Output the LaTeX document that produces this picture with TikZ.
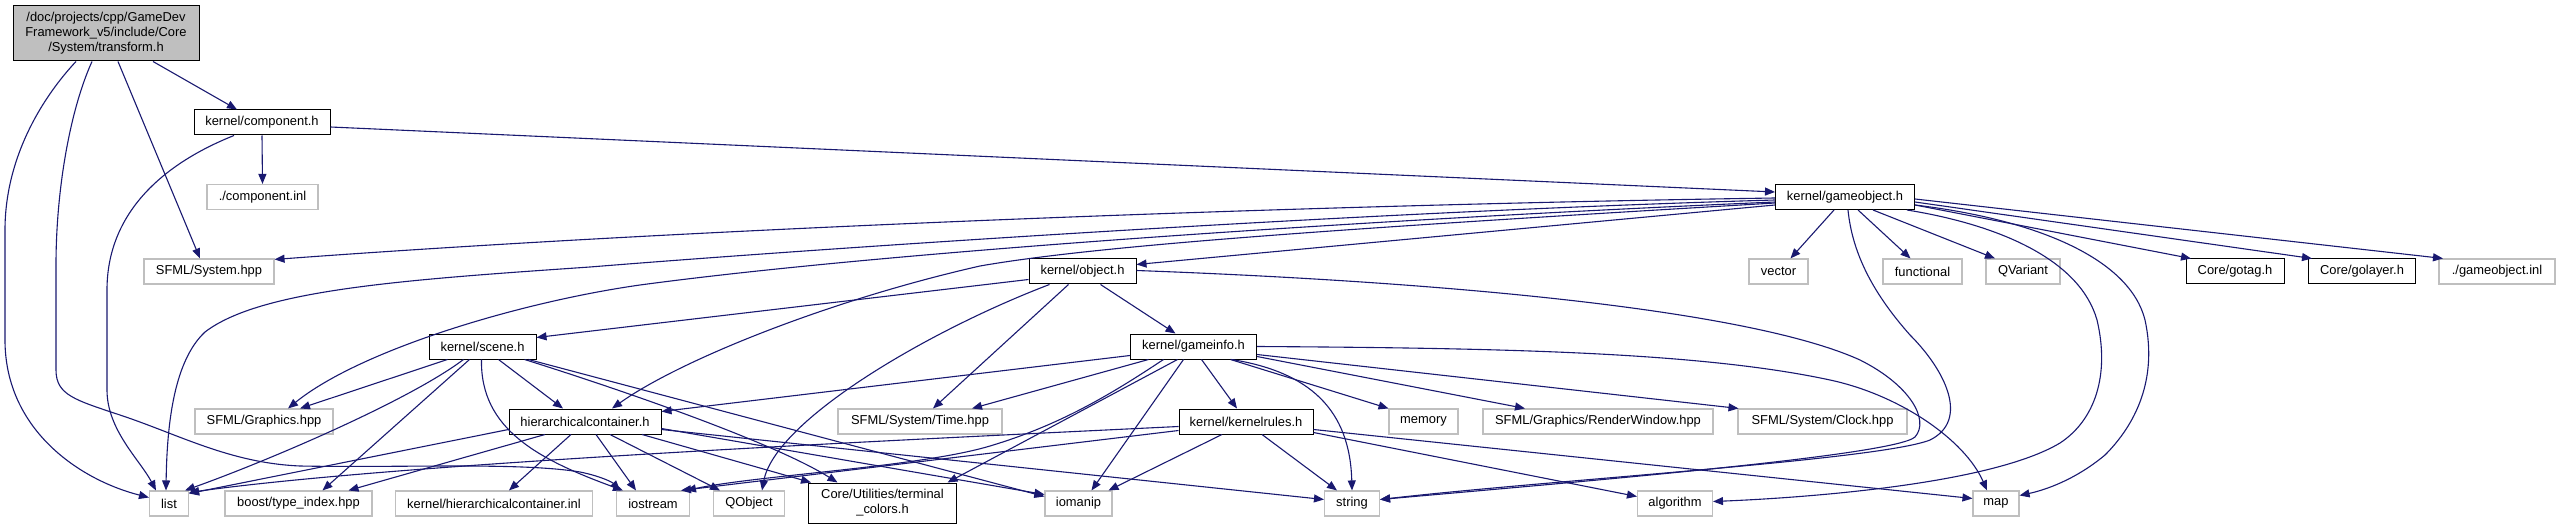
\documentclass[tikz,border=0pt]{standalone}
\usepackage{fontspec}
\setmainfont{Liberation Sans}
\usetikzlibrary{arrows.meta}
\definecolor{edgeblue}{HTML}{191970}
\definecolor{greyb}{HTML}{BFBFBF}
\begin{document}
\begin{tikzpicture}[x=1pt,y=-1pt,
  nbox/.style={rectangle, draw=black, line width=1pt, fill=white, inner sep=0pt, align=center, minimum height=25pt, font=\fontsize{12.9}{15}\selectfont},
  gbox/.style={nbox, draw=greyb, line width=1.1pt},
  dep/.style={draw=edgeblue, line width=1.1pt, -{Triangle[length=10pt,width=8pt]}},
]
\useasboundingbox (0,0) rectangle (2559,529);

% ---------- nodes ----------
\node[nbox, fill=greyb, minimum width=186pt, minimum height=55pt] (trans) at (106,33.5) {/doc/projects/cpp/GameDev\\Framework\_v5/include/Core\\/System/transform.h};
\node[nbox, minimum width=136pt] (comp) at (262,122.5) {kernel/component.h};
\node[gbox, minimum width=111pt] (compinl) at (262.5,197) {./component.inl};
\node[gbox, minimum width=130pt] (sfsys) at (209,271.5) {SFML/System.hpp};
\node[nbox, minimum width=139pt] (gobj) at (1845,197) {kernel/gameobject.h};
\node[nbox, minimum width=107pt] (obj) at (1082.5,271.5) {kernel/object.h};
\node[gbox, minimum width=59pt] (nvector) at (1778.5,271.5) {vector};
\node[gbox, minimum width=79pt] (nfunc) at (1922.5,271.5) {functional};
\node[gbox, minimum width=74pt] (nqvar) at (2023,271.5) {QVariant};
\node[nbox, minimum width=98pt] (gotag) at (2235,271.5) {Core/gotag.h};
\node[nbox, minimum width=107pt] (golayer) at (2362,271.5) {Core/golayer.h};
\node[gbox, minimum width=116pt] (goinl) at (2497,271.5) {./gameobject.inl};
\node[nbox, minimum width=107pt] (scene) at (482.5,346.5) {kernel/scene.h};
\node[nbox, minimum width=126pt] (ginfo) at (1193.5,346.5) {kernel/gameinfo.h};
\node[gbox, minimum width=138pt] (sfgfx) at (264,421.5) {SFML/Graphics.hpp};
\node[nbox, minimum width=152pt] (hier) at (585,421.5) {hierarchicalcontainer.h};
\node[gbox, minimum width=164pt] (ntime) at (920,421.5) {SFML/System/Time.hpp};
\node[nbox, minimum width=134pt] (krules) at (1246,421.5) {kernel/kernelrules.h};
\node[gbox, minimum width=69pt] (nmem) at (1423.5,421.5) {memory};
\node[gbox, minimum width=230pt] (rwin) at (1598,421.5) {SFML/Graphics/RenderWindow.hpp};
\node[gbox, minimum width=169pt] (nclock) at (1822.5,421.5) {SFML/System/Clock.hpp};
\node[gbox, minimum width=39pt] (nlist) at (169,503.5) {list};
\node[gbox, minimum width=147pt] (nboost) at (298.5,503.5) {boost/type\_index.hpp};
\node[gbox, minimum width=197pt] (hinl) at (494,503.5) {kernel/hierarchicalcontainer.inl};
\node[gbox, minimum width=73pt] (nios) at (653,503.5) {iostream};
\node[gbox, minimum width=71pt] (nqobj) at (749,503.5) {QObject};
\node[nbox, minimum width=148pt, minimum height=40pt] (tcol) at (882.5,503) {Core/Utilities/terminal\\\_colors.h};
\node[gbox, minimum width=67pt] (niomanip) at (1078.5,503.5) {iomanip};
\node[gbox, minimum width=55pt] (nstring) at (1352,503.5) {string};
\node[gbox, minimum width=75pt] (nalgo) at (1675,503.5) {algorithm};
\node[gbox, minimum width=46pt] (nmap) at (1996,503.5) {map};

% ---------- transform.h ----------
\draw[dep] ([xshift=47]trans.south) -- ([xshift=-25]comp.north);
\draw[dep] ([xshift=12]trans.south) -- ([xshift=-9]sfsys.north);
\draw[dep] ([xshift=-14]trans.south) .. controls (70,110) and (56,190) .. (56,265) -- (56,370)
  .. controls (56,395) and (75,400) .. (120,415) .. controls (180,435) and (230,463) .. (300,466)
  .. controls (400,468) and (520,462) .. (580,472) .. controls (600,476) and (612,482) .. ([xshift=-33]nios.north);
\draw[dep] ([xshift=-30]trans.south) .. controls (40,100) and (5,160) .. (5,230) -- (5,340)
  .. controls (5,430) and (80,480) .. ([yshift=6]nlist.west);

% ---------- component.h ----------
\draw[dep] (comp.south) -- (compinl.north);
\draw[dep] ([xshift=-28]comp.south) .. controls (160,165) and (107,215) .. (107,290) -- (107,390)
  .. controls (107,430) and (140,460) .. ([xshift=-13]nlist.north);
\draw[dep] ([yshift=-4.5]comp.east) -- ([yshift=5]gobj.west);

% ---------- gameobject.h ----------
\draw[dep] ([yshift=-1]gobj.west) .. controls (1300,205) and (700,228) .. ([yshift=-1]sfsys.north east);
\draw[dep] ([yshift=-3]gobj.west) .. controls (1350,212) and (800,250) .. (590,267)
  .. controls (400,280) and (260,290) .. (205,332) .. controls (175,360) and (167,420) .. ([xshift=-3]nlist.north);
\draw[dep] ([yshift=-5]gobj.west) .. controls (1400,218) and (900,250) .. (640,285)
  .. controls (520,302) and (360,350) .. ([xshift=24]sfgfx.north);
\draw[dep] ([yshift=-6]gobj.west) .. controls (1350,228) and (1100,245) .. (980,266)
  .. controls (830,300) and (680,360) .. ([xshift=27]hier.north);
\draw[dep] ([yshift=-8]gobj.west) -- ([yshift=7]obj.east);
\draw[dep] ([xshift=-11]gobj.south) -- ([xshift=12]nvector.north);
\draw[dep] ([xshift=13]gobj.south) -- ([xshift=-12]nfunc.north);
\draw[dep] ([xshift=28]gobj.south) -- ([xshift=-28]nqvar.north);
\draw[dep] ([yshift=-8]gobj.east) -- ([xshift=-44]gotag.north);
\draw[dep] ([yshift=-5]gobj.east) -- ([xshift=-50]golayer.north);
\draw[dep] ([yshift=-2]gobj.east) -- ([xshift=-54]goinl.north);
\draw[dep] ([xshift=3]gobj.south) .. controls (1852,250) and (1870,290) .. (1910,335)
  .. controls (1945,370) and (1970,420) .. (1930,440) .. controls (1880,460) and (1550,480) .. ([yshift=4]nstring.east);
\draw[dep] ([xshift=-8]gobj.south east) .. controls (2000,225) and (2080,260) .. (2097,320)
  .. controls (2110,375) and (2095,420) .. (2060,443) .. controls (1990,485) and (1800,498) .. ([yshift=2]nalgo.east);
\draw[dep] ([yshift=-8]gobj.east) .. controls (2040,220) and (2130,260) .. (2145,320)
  .. controls (2158,380) and (2135,425) .. (2105,455) .. controls (2075,480) and (2045,490) .. ([yshift=8]nmap.east);

% ---------- object.h ----------
\draw[dep] ([yshift=-8]obj.west) -- ([yshift=9]scene.east);
\draw[dep] ([xshift=18]obj.south) -- ([xshift=-18]ginfo.north);
\draw[dep] ([xshift=-14]obj.south) -- ([xshift=13]ntime.north);
\draw[dep] ([xshift=-33]obj.south) .. controls (930,330) and (775,420) .. ([xshift=13]nqobj.north);
\draw[dep] ([yshift=1]obj.east) .. controls (1450,282) and (1750,310) .. (1860,360)
  .. controls (1910,385) and (1930,420) .. (1915,437) .. controls (1895,455) and (1600,480) .. ([yshift=4]nstring.east);

% ---------- scene.h ----------
\draw[dep] ([xshift=-35]scene.south) -- ([xshift=36]sfgfx.north);
\draw[dep] ([xshift=-19]scene.south) .. controls (410,400) and (270,460) .. ([xshift=16]nlist.north);
\draw[dep] ([xshift=-13]scene.south) -- ([xshift=24]nboost.north);
\draw[dep] ([xshift=-1]scene.south) .. controls (480,430) and (540,460) .. ([xshift=-30]nios.north);
\draw[dep] ([xshift=16]scene.south) -- ([xshift=-22]hier.north);
\draw[dep] ([xshift=42]scene.south) .. controls (600,383) and (770,440) .. ([xshift=-45]tcol.north);
\draw[dep] ([xshift=46]scene.south) -- ([yshift=7]niomanip.west);

% ---------- hierarchicalcontainer.h ----------
\draw[dep] ([yshift=-8]hier.west) -- ([yshift=10]nlist.east);
\draw[dep] ([xshift=-40]hier.south) -- ([xshift=50]nboost.north);
\draw[dep] ([xshift=-14]hier.south) -- ([xshift=15]hinl.north);
\draw[dep] ([xshift=11]hier.south) -- ([xshift=-17]nios.north);
\draw[dep] ([xshift=25]hier.south) -- ([xshift=-29]nqobj.north);
\draw[dep] ([xshift=57]hier.south) -- ([xshift=3]tcol.north west);
\draw[dep] ([yshift=-7]hier.east) -- ([yshift=9]niomanip.west);
\draw[dep] ([yshift=-8]hier.east) -- ([yshift=4]nstring.west);

% ---------- gameinfo.h ----------
\draw[dep] ([yshift=-9]ginfo.west) -- ([yshift=10]hier.east);
\draw[dep] ([xshift=-45]ginfo.south) -- ([xshift=52]ntime.north);
\draw[dep] ([xshift=-30]ginfo.south) .. controls (1110,395) and (1060,425) .. (990,446)
  .. controls (920,467) and (760,475) .. ([xshift=33]nios.north);
\draw[dep] ([xshift=-16]ginfo.south) -- ([xshift=65]tcol.north);
\draw[dep] ([xshift=-10]ginfo.south) -- ([xshift=13]niomanip.north);
\draw[dep] ([xshift=8]ginfo.south) -- ([xshift=-9]krules.north);
\draw[dep] ([xshift=38]ginfo.south) .. controls (1310,372) and (1350,410) .. (nstring.north);
\draw[dep] ([xshift=37]ginfo.south) -- ([xshift=-35]nmem.north);
\draw[dep] ([yshift=-10]ginfo.east) -- ([xshift=-73]rwin.north);
\draw[dep] ([yshift=-8]ginfo.east) -- ([xshift=-84]nclock.north);
\draw[dep] (ginfo.east) .. controls (1500,348) and (1700,352) .. (1830,380)
  .. controls (1900,395) and (1965,440) .. ([xshift=-9]nmap.north);

% ---------- kernelrules.h ----------
\draw[dep] ([yshift=-5]krules.west) .. controls (900,440) and (400,463) .. ([yshift=11]nlist.east);
\draw[dep] ([yshift=-9]krules.west) -- ([xshift=28]nios.north);
\draw[dep] ([xshift=-24]krules.south) -- ([xshift=30]niomanip.north);
\draw[dep] ([xshift=16]krules.south) -- ([xshift=-15]nstring.north);
\draw[dep] ([yshift=-11]krules.east) -- ([yshift=7]nalgo.west);
\draw[dep] ([yshift=-8]krules.east) -- ([yshift=5]nmap.west);
\end{tikzpicture}
\end{document}
